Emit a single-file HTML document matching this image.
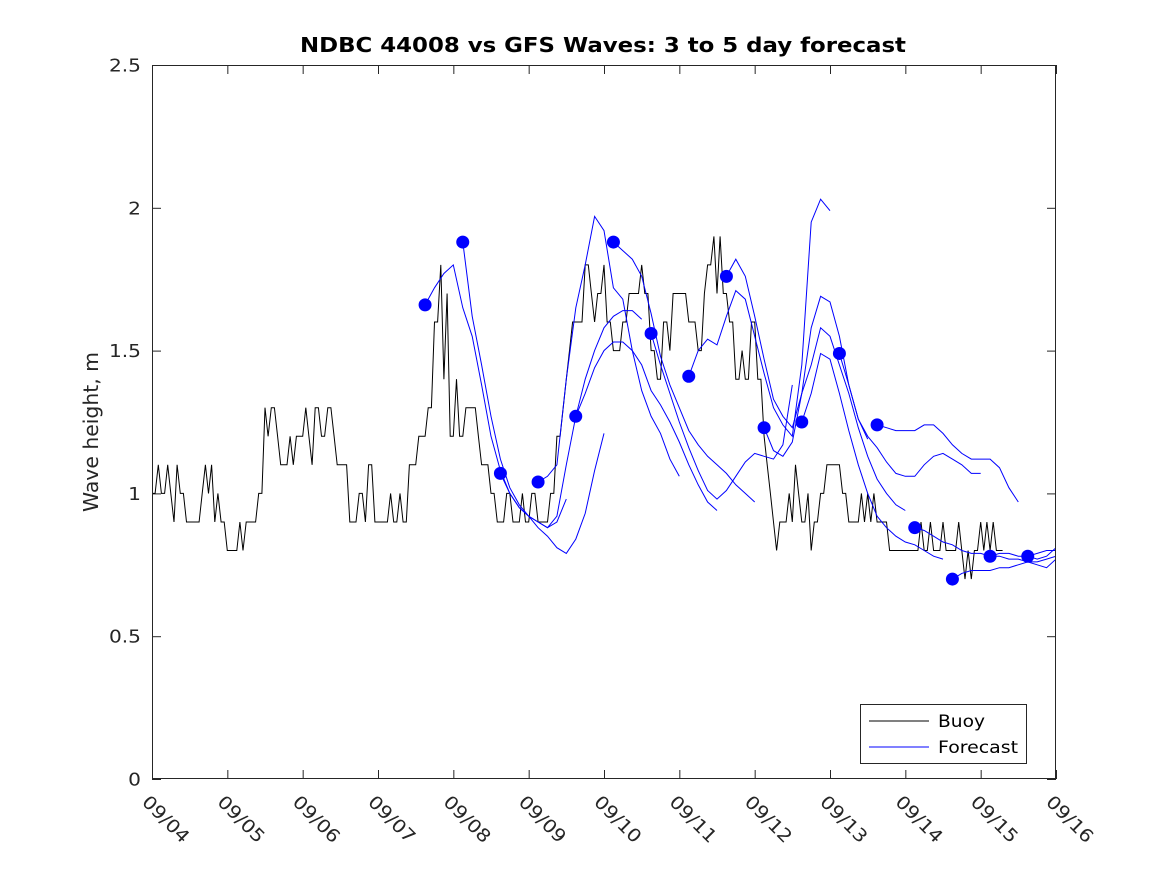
<!DOCTYPE html>
<html><head><meta charset="utf-8"><style>
html,body{margin:0;padding:0;background:#fff;}
svg{display:block;font-family:"DejaVu Sans","Liberation Sans",sans-serif;}
</style></head><body>
<svg id="chart" width="1167" height="875" viewBox="0 0 1167 875">
<defs><clipPath id="plotclip"><rect x="152" y="65" width="904" height="714"/></clipPath></defs>
<rect width="1167" height="875" fill="#fff"/>
<text x="603" y="52" text-anchor="middle" font-size="20" font-weight="bold" fill="#000" textLength="606" lengthAdjust="spacingAndGlyphs">NDBC 44008 vs GFS Waves: 3 to 5 day forecast</text>
<text transform="translate(98,432) rotate(-90)" text-anchor="middle" font-size="20" fill="#262626" textLength="160" lengthAdjust="spacingAndGlyphs">Wave height, m</text>
<g id="axes"></g>
<g id="buoy" clip-path="url(#plotclip)"></g>
<g id="forecast" clip-path="url(#plotclip)"></g>
<rect x="152.5" y="65.5" width="903" height="713" fill="none" stroke="#262626" stroke-width="1"/>
<g>
<rect x="860.5" y="704.5" width="166" height="59" fill="#fff" stroke="#262626"/>
<line x1="869" y1="721" x2="929" y2="721" stroke="#000"/>
<text x="938" y="727" font-size="17" fill="#000" textLength="47" lengthAdjust="spacingAndGlyphs">Buoy</text>
<line x1="869" y1="747" x2="929" y2="747" stroke="#00f"/>
<text x="938" y="753" font-size="17" fill="#000" textLength="80" lengthAdjust="spacingAndGlyphs">Forecast</text>
</g>
</svg>
<script>
const xTickLabels = ["09/04","09/05","09/06","09/07","09/08","09/09","09/10","09/11","09/12","09/13","09/14","09/15","09/16"];
const yTicks = [0,0.5,1,1.5,2,2.5];
const yTickLabels = ["0","0.5","1","1.5","2","2.5"];
// buoy observations: hour since 09/04 00:00 where the reading changes, and the reading
const buoyHours = [0,2,3,5,6,7,8,9,11,16,17,18,19,20,21,22,24,28,29,30,34,36,37,38,40,41,44,45,46,49,50,51,52,54,56,58,59,63,66,68,69,71,76,77,79,80,82,85,88,90,92,93,94,95,97,98,100,104,105,108,110,113,115,118,119,121,123,127,129,131,132,133,134,138,140,141,142,144,145,147,150,152,156,157,159,161,163,165,166,171,174,176,177,179,180,181,182,184,186,188,189,191,193,195,196,197,198,199,200,203,204,205,206,207,209,210,211,213,215,220,222,226,227,228,229,230,231,235,245,246,248,249,252,253,257,258,259,260,261,262,264,265,266,267,268,269,271];
const buoyValues = [1.0,1.1,1.0,1.1,1.0,0.9,1.1,1.0,0.9,1.0,1.1,1.0,1.1,0.9,1.0,0.9,0.8,0.9,0.8,0.9,1.0,1.3,1.2,1.3,1.2,1.1,1.2,1.1,1.2,1.3,1.2,1.1,1.3,1.2,1.3,1.2,1.1,0.9,1.0,0.9,1.1,0.9,1.0,0.9,1.0,0.9,1.1,1.2,1.3,1.6,1.8,1.4,1.7,1.2,1.4,1.2,1.3,1.2,1.1,1.0,0.9,1.0,0.9,1.0,0.9,1.0,0.9,1.0,1.2,1.3,1.4,1.5,1.6,1.8,1.7,1.6,1.7,1.8,1.6,1.5,1.6,1.7,1.8,1.7,1.5,1.4,1.6,1.5,1.7,1.6,1.5,1.7,1.8,1.9,1.7,1.9,1.7,1.6,1.4,1.5,1.4,1.6,1.4,1.2,1.1,1.0,0.9,0.8,0.9,1.0,0.9,1.1,1.0,0.9,1.0,0.8,0.9,1.0,1.1,1.0,0.9,1.0,0.9,1.0,0.9,1.0,0.9,0.8,0.9,0.8,0.9,0.8,0.9,0.8,0.9,0.8,0.7,0.8,0.7,0.8,0.9,0.8,0.9,0.8,0.9,0.8,0.8];
const forecastStartDay0 = 3.625;
const forecastStartSpacing = 0.5;
const forecastStep = 0.125;
const forecastStarts = [1.66,1.88,1.07,1.04,1.27,1.88,1.56,1.41,1.76,1.23,1.25,1.49,1.24,0.88,0.70,0.78,0.78];
const fc0 = [1.66,1.72,1.77,1.80,1.65,1.55,1.38,1.20,1.08,1.00,0.95,0.92,0.90,0.88,0.90,0.98];
const fc1 = [1.88,1.62,1.45,1.27,1.12,1.02,0.96,0.92,0.88,0.85,0.81,0.79,0.84,0.93,1.08,1.21];
const fc2 = [1.07,1.00,0.95,0.92,0.90,0.88,0.92,1.10,1.27,1.40,1.50,1.58,1.62,1.64,1.64,1.61];
const fc3 = [1.04,1.06,1.10,1.40,1.65,1.80,1.97,1.92,1.72,1.68,1.50,1.36,1.27,1.21,1.12,1.06];
const fc4 = [1.27,1.35,1.44,1.50,1.53,1.53,1.50,1.45,1.36,1.31,1.25,1.18,1.10,1.03,0.97,0.94];
const fc5 = [1.88,1.85,1.82,1.76,1.63,1.48,1.38,1.30,1.22,1.17,1.13,1.10,1.07,1.03,1.00,0.97];
const fc6 = [1.56,1.45,1.35,1.25,1.16,1.08,1.01,0.98,1.01,1.06,1.11,1.14,1.13,1.12,1.17,1.38];
const fc7 = [1.41,1.50,1.54,1.52,1.62,1.71,1.68,1.55,1.42,1.30,1.24,1.20,1.45,1.95,2.03,1.99];
const fc8 = [1.76,1.82,1.76,1.62,1.47,1.33,1.27,1.23,1.35,1.58,1.69,1.67,1.55,1.38,1.26,1.19];
const fc9 = [1.23,1.15,1.13,1.18,1.35,1.45,1.58,1.55,1.45,1.35,1.23,1.13,1.05,1.00,0.96,0.94];
const fc10 = [1.25,1.35,1.49,1.47,1.35,1.22,1.10,1.00,0.92,0.88,0.85,0.83,0.82,0.80,0.78,0.77];
const fc11 = [1.49,1.38,1.26,1.20,1.16,1.11,1.07,1.06,1.06,1.10,1.13,1.14,1.12,1.10,1.07,1.07];
const fc12 = [1.24,1.23,1.22,1.22,1.22,1.24,1.24,1.21,1.17,1.14,1.12,1.12,1.12,1.09,1.02,0.97];
const fc13 = [0.88,0.87,0.85,0.83,0.82,0.80,0.79,0.79,0.78,0.78,0.77,0.77,0.76,0.75,0.74,0.77];
const fc14 = [0.70,0.72,0.73,0.73,0.73,0.74,0.74,0.75,0.76,0.76,0.77,0.78,0.79,0.79,0.80,0.80];
const fc15 = [0.78,0.79,0.79,0.78,0.78,0.77,0.78,0.81,0.85,0.86,0.87,0.91,0.94,0.97,0.99,1.00];
const fc16 = [0.78,0.79,0.80,0.80,0.80,0.80,0.80,0.80,0.80,0.80,0.80,0.80,0.80,0.80,0.80,0.80];
const forecasts = [fc0,fc1,fc2,fc3,fc4,fc5,fc6,fc7,fc8,fc9,fc10,fc11,fc12,fc13,fc14,fc15,fc16];

const NS = "http://www.w3.org/2000/svg";
const X0 = 152, X1 = 1056, Y0 = 779, Y1 = 65, DAYS = 12, YMAX = 2.5;
function xs(d){ return X0 + (X1 - X0) * d / DAYS; }
function ys(v){ return Y0 - (Y0 - Y1) * v / YMAX; }
function mk(tag, attrs, parent){ const e = document.createElementNS(NS, tag); for (const k in attrs) e.setAttribute(k, attrs[k]); parent.appendChild(e); return e; }

const axes = document.getElementById("axes");
xTickLabels.forEach((lab, i) => {
  const x = xs(i) + 0.5;
  const tb = mk("line", {x1:x, y1:Y0, x2:x, y2:Y0-9, stroke:"#262626"}, axes);
  
  
  const tt = mk("line", {x1:x, y1:Y1, x2:x, y2:Y1+9, stroke:"#262626"}, axes);
  
  
  const t = mk("text", {transform:"translate(" + (xs(i) - 11) + ",803) rotate(45) scale(1.12,1)", "font-size":"18", fill:"#262626"}, axes);
  t.textContent = lab;
  
  
});
yTicks.forEach((v, i) => {
  const y = ys(v) + 0.5;
  const l = mk("line", {x1:X0, y1:y, x2:X0+9, y2:y, stroke:"#262626"}, axes);
  
  
  const r = mk("line", {x1:X1, y1:y, x2:X1-9, y2:y, stroke:"#262626"}, axes);
  
  
  const t = mk("text", {transform:"translate(141," + (ys(v)+6.5) + ") scale(1.12,1)", "text-anchor":"end", "font-size":"18", fill:"#262626"}, axes);
  t.textContent = yTickLabels[i];
  
  
});

const buoyG = document.getElementById("buoy");
const bparts = [];
buoyHours.forEach((h, i) => {
  const v = buoyValues[i];
  bparts.push(xs(h / 24).toFixed(1) + "," + ys(v).toFixed(1));
  if (i + 1 < buoyHours.length && buoyHours[i + 1] - 1 > h) {
    bparts.push(xs((buoyHours[i + 1] - 1) / 24).toFixed(1) + "," + ys(v).toFixed(1));
  }
});
const bl = mk("polyline", {points:bparts.join(" "), fill:"none", stroke:"#000", "stroke-width":"1"}, buoyG);



const fg = document.getElementById("forecast");
forecasts.forEach((arr, k) => {
  const d0 = forecastStartDay0 + k * forecastStartSpacing;
  const pts = arr.map((v, j) => xs(d0 + j * forecastStep).toFixed(1) + "," + ys(v).toFixed(1)).join(" ");
  const pl = mk("polyline", {points:pts, fill:"none", stroke:"#00f", "stroke-width":"1"}, fg);
  
  
});
forecastStarts.forEach((v, k) => {
  const d0 = forecastStartDay0 + k * forecastStartSpacing;
  const c = mk("circle", {cx:xs(d0), cy:ys(v), r:6.5, fill:"#00f"}, fg);
  
  
});
</script>
</body></html>
